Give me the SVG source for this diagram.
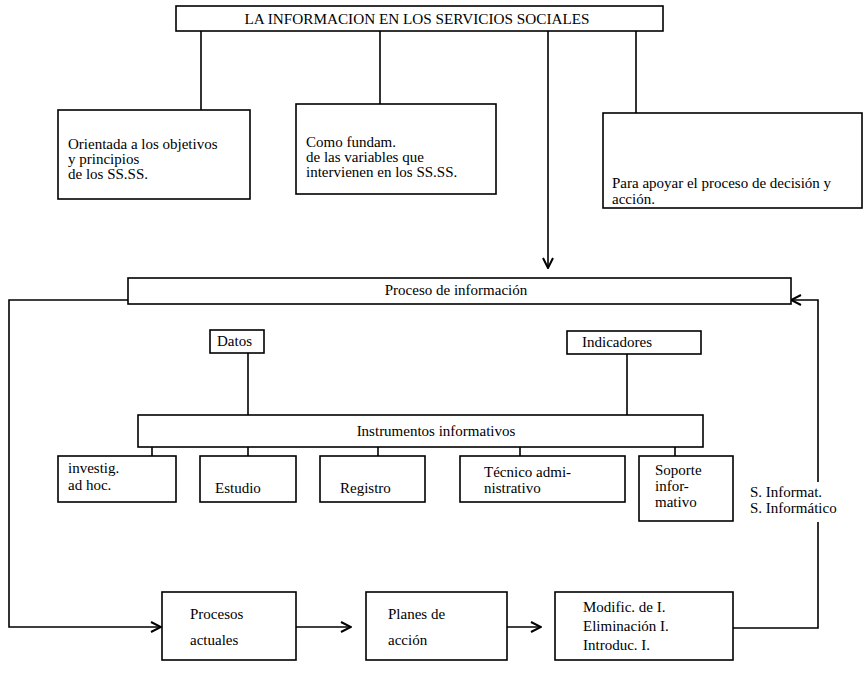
<svg xmlns="http://www.w3.org/2000/svg" width="863" height="694" viewBox="0 0 863 694">
<style>
.box{fill:#fff;stroke:#000;stroke-width:1.6}
.ln{fill:none;stroke:#000;stroke-width:1.6}
text{font-family:"Liberation Serif","Times New Roman","DejaVu Serif",serif;font-size:15px;fill:#000}
</style>
<defs>
<marker id="ah" viewBox="0 0 12 12" refX="11" refY="6" markerWidth="12" markerHeight="12" markerUnits="userSpaceOnUse" orient="auto">
<path d="M1,1 L11,6 L1,11" fill="none" stroke="#000" stroke-width="2"/>
</marker>
</defs>
<g id="connectors">
<path class="ln" d="M201,31 V110"/>
<path class="ln" d="M380,31 V104"/>
<path class="ln" d="M548,31 V268" marker-end="url(#ah)"/>
<path class="ln" d="M636,31 V113"/>
<path class="ln" d="M128,300 H9 V627 H161" marker-end="url(#ah)"/>
<path class="ln" d="M296,627 H351" marker-end="url(#ah)"/>
<path class="ln" d="M507,627 H541" marker-end="url(#ah)"/>
<path class="ln" d="M733,628 H818 V522"/>
<path class="ln" d="M818,482 V300 H791" marker-end="url(#ah)"/>
<path class="ln" d="M248,353 V415"/>
<path class="ln" d="M627,354 V415"/>
<path class="ln" d="M152,447 V456 M248,447 V456 M378,447 V456 M520,447 V456 M675,447 V456"/>
</g>
<g font-family="Liberation Serif, Times New Roman, serif">
<g id="title"><rect class="box" x="176" y="6" width="487" height="25"/><text x="417" y="24" text-anchor="middle" font-size="16" textLength="345" lengthAdjust="spacingAndGlyphs">LA INFORMACION EN LOS SERVICIOS SOCIALES</text></g>
<g id="orientada"><rect class="box" x="58" y="110" width="192" height="89"/><text x="68" y="149">Orientada a los objetivos</text><text x="68" y="164">y principios</text><text x="68" y="179">de los SS.SS.</text></g>
<g id="como"><rect class="box" x="296" y="104" width="200" height="90"/><text x="306" y="147">Como fundam.</text><text x="306" y="162">de las variables que</text><text x="306" y="177">intervienen en los SS.SS.</text></g>
<g id="para"><rect class="box" x="603" y="113" width="259" height="95"/><text x="612" y="188">Para apoyar el proceso de decisión y</text><text x="612" y="204">acción.</text></g>
<g id="proceso"><rect class="box" x="128" y="278" width="663" height="26"/><text x="456" y="295" text-anchor="middle">Proceso de información</text></g>
<g id="datos"><rect class="box" x="210" y="330" width="54" height="23"/><text x="217" y="346">Datos</text></g>
<g id="indicadores"><rect class="box" x="567" y="331" width="134" height="23"/><text x="582" y="347">Indicadores</text></g>
<g id="instrumentos"><rect class="box" x="138" y="415" width="565" height="32"/><text x="436" y="436" text-anchor="middle">Instrumentos informativos</text></g>
<g id="investig"><rect class="box" x="58" y="456" width="118" height="46"/><text x="68" y="473">investig.</text><text x="68" y="490">ad hoc.</text></g>
<g id="estudio"><rect class="box" x="200" y="456" width="96" height="46"/><text x="215" y="493">Estudio</text></g>
<g id="registro"><rect class="box" x="320" y="456" width="105" height="46"/><text x="340" y="493">Registro</text></g>
<g id="tecnico"><rect class="box" x="460" y="456" width="165" height="46"/><text x="484" y="477">Técnico admi-</text><text x="484" y="493">nistrativo</text></g>
<g id="soporte"><rect class="box" x="639" y="456" width="94" height="65"/><text x="655" y="475">Soporte</text><text x="655" y="491">infor-</text><text x="655" y="507">mativo</text></g>
<g id="sinformat"><text x="750" y="497">S. Informat.</text><text x="750" y="513">S. Informático</text></g>
<g id="procesos"><rect class="box" x="162" y="592" width="134" height="68"/><text x="190" y="619">Procesos</text><text x="190" y="645">actuales</text></g>
<g id="planes"><rect class="box" x="366" y="592" width="141" height="68"/><text x="388" y="619">Planes de</text><text x="388" y="645">acción</text></g>
<g id="modific"><rect class="box" x="555" y="592" width="178" height="68"/><text x="583" y="612">Modific. de I.</text><text x="583" y="631">Eliminación I.</text><text x="583" y="650">Introduc. I.</text></g>
</g>
</svg>
